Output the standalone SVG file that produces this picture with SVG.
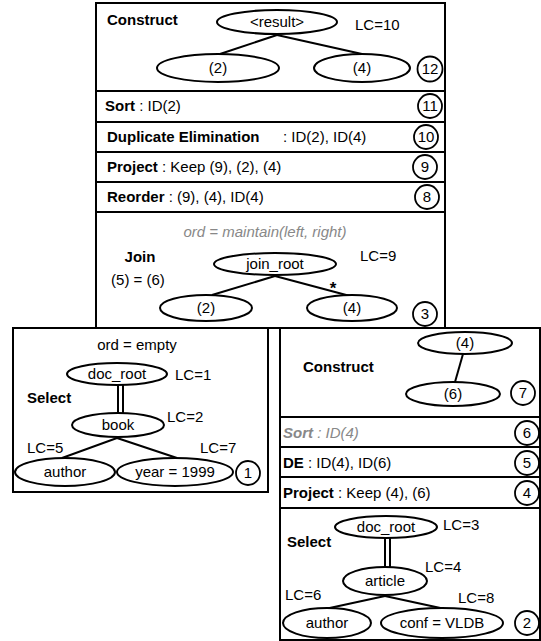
<svg xmlns="http://www.w3.org/2000/svg" width="541" height="641" viewBox="0 0 541 641">
<style>
text{font-family:"Liberation Sans",Arial,Helvetica,sans-serif;font-size:15px;fill:#000}
.b{font-weight:bold}
.c{text-anchor:middle}
.g{fill:#888;font-style:italic}
.box{fill:#fff;stroke:#000;stroke-width:2}
.sep{stroke:#000;stroke-width:2}
.el{fill:#fff;stroke:#000;stroke-width:2}
.num{fill:#fff;stroke:#000;stroke-width:1.8}
.ln{stroke:#000;stroke-width:2;fill:none}
</style>
<rect width="541" height="641" fill="#fff"/>
<!-- boxes -->
<g id="top-stack">
<rect class="box" x="96" y="3" width="349" height="325"/>
<line class="sep" x1="96" y1="91" x2="445" y2="91"/>
<line class="sep" x1="96" y1="122" x2="445" y2="122"/>
<line class="sep" x1="96" y1="152" x2="445" y2="152"/>
<line class="sep" x1="96" y1="182" x2="445" y2="182"/>
<line class="sep" x1="96" y1="212" x2="445" y2="212" stroke-width="3"/>
<line class="sep" x1="96" y1="328" x2="445" y2="328" stroke-width="3"/>
</g>
<g id="left-box">
<rect class="box" x="13" y="328" width="255" height="164"/>
</g>
<g id="right-stack">
<rect class="box" x="280" y="328" width="260" height="312"/>
<line class="sep" x1="280" y1="417" x2="540" y2="417"/>
<line class="sep" x1="280" y1="447" x2="540" y2="447"/>
<line class="sep" x1="280" y1="477" x2="540" y2="477"/>
<line class="sep" x1="280" y1="508" x2="540" y2="508"/>
</g>
<!-- connectors -->
<g id="connectors">
<line class="ln" x1="277" y1="35" x2="220" y2="54"/>
<line class="ln" x1="277" y1="35" x2="362" y2="54"/>
<line class="ln" x1="275" y1="276" x2="212" y2="295"/>
<line class="ln" x1="275" y1="276" x2="350" y2="296"/>
<line class="ln" x1="118" y1="385" x2="118" y2="413"/>
<line class="ln" x1="123" y1="385" x2="123" y2="413"/>
<line class="ln" x1="117" y1="438" x2="62" y2="458"/>
<line class="ln" x1="117" y1="438" x2="177" y2="458"/>
<line class="ln" x1="463" y1="354" x2="455" y2="382"/>
<line class="ln" x1="385" y1="538" x2="385" y2="567"/>
<line class="ln" x1="390" y1="538" x2="390" y2="567"/>
<line class="ln" x1="385" y1="596" x2="325" y2="609"/>
<line class="ln" x1="385" y1="596" x2="445" y2="609"/>
</g>
<!-- Construct (12) -->
<g id="construct12">
<text class="b" x="107" y="25">Construct</text>
<text x="355" y="30">LC=10</text>
</g>
<g id="result"><ellipse class="el" cx="277" cy="22" rx="60" ry="12"/><text class="c" x="277" y="27">&lt;result&gt;</text></g>
<g id="c12-2"><ellipse class="el" cx="218" cy="68" rx="61" ry="14"/><text class="c" x="218" y="73">(2)</text></g>
<g id="c12-4"><ellipse class="el" cx="362" cy="68" rx="48" ry="14"/><text class="c" x="362" y="73">(4)</text></g>
<g id="n12"><circle class="num" cx="430" cy="69" r="12.5"/><text class="c" x="430" y="74">12</text></g>
<!-- rows -->
<g id="sort11"><text x="105" y="111"><tspan class="b">Sort</tspan> : ID(2)</text>
<circle class="num" cx="430" cy="106" r="12"/><text class="c" x="430" y="111">11</text></g>
<g id="de10"><text x="107" y="142"><tspan class="b">Duplicate Elimination</tspan></text><text x="283" y="142">: ID(2), ID(4)</text>
<circle class="num" cx="426" cy="137" r="12"/><text class="c" x="426" y="142">10</text></g>
<g id="project9"><text x="107" y="172"><tspan class="b">Project</tspan> : Keep (9), (2), (4)</text>
<circle class="num" cx="425" cy="167" r="12"/><text class="c" x="425" y="172">9</text></g>
<g id="reorder8"><text x="107" y="202"><tspan class="b">Reorder</tspan> : (9), (4), ID(4)</text>
<circle class="num" cx="427" cy="197" r="12"/><text class="c" x="427" y="202">8</text></g>
<!-- Join (3) -->
<g id="join3">
<text class="c g" x="265" y="237">ord = maintain(left, right)</text>
<text class="c b" x="140" y="262">Join</text>
<text class="c" x="138" y="285">(5) = (6)</text>
<text x="360" y="261">LC=9</text>
<text class="c b" x="333" y="294" style="font-size:17px">*</text>
<circle class="num" cx="425" cy="314" r="12"/><text class="c" x="425" y="319">3</text>
</g>
<g id="join_root"><ellipse class="el" cx="275" cy="264" rx="61" ry="11"/><text class="c" x="275" y="269">join_root</text></g>
<g id="j-2"><ellipse class="el" cx="206" cy="308" rx="46" ry="13"/><text class="c" x="206" y="313">(2)</text></g>
<g id="j-4"><ellipse class="el" cx="352" cy="308" rx="45" ry="13"/><text class="c" x="352" y="313">(4)</text></g>
<!-- Select (1) -->
<g id="select1">
<text class="c" x="137" y="350">ord = empty</text>
<text class="b" x="27" y="403">Select</text>
<text x="175" y="380">LC=1</text>
<text x="167" y="422">LC=2</text>
<text x="27" y="453">LC=5</text>
<text x="200" y="453">LC=7</text>
<circle class="num" cx="248" cy="473" r="12"/><text class="c" x="248" y="478">1</text>
</g>
<g id="docroot1"><ellipse class="el" cx="117" cy="374" rx="50" ry="11"/><text class="c" x="117" y="379">doc_root</text></g>
<g id="book"><ellipse class="el" cx="118" cy="425" rx="46" ry="12"/><text class="c" x="118" y="430">book</text></g>
<g id="author1"><ellipse class="el" cx="65" cy="472" rx="50" ry="14"/><text class="c" x="65" y="477">author</text></g>
<g id="year"><ellipse class="el" cx="175" cy="472" rx="58" ry="14"/><text class="c" x="175" y="477">year = 1999</text></g>
<!-- Construct (7) -->
<g id="construct7">
<text class="b" x="303" y="372">Construct</text>
<circle class="num" cx="523" cy="393" r="12"/><text class="c" x="523" y="398">7</text>
</g>
<g id="c7-4"><ellipse class="el" cx="465" cy="343" rx="47" ry="11"/><text class="c" x="465" y="348">(4)</text></g>
<g id="c7-6"><ellipse class="el" cx="453" cy="394" rx="47" ry="12"/><text class="c" x="453" y="399">(6)</text></g>
<g id="sort6"><text class="g" x="283" y="438"><tspan class="b">Sort</tspan> : ID(4)</text>
<circle class="num" cx="527" cy="433" r="12"/><text class="c" x="527" y="438">6</text></g>
<g id="de5"><text x="283" y="468"><tspan class="b">DE</tspan> : ID(4), ID(6)</text>
<circle class="num" cx="527" cy="463" r="12"/><text class="c" x="527" y="468">5</text></g>
<g id="project4"><text x="283" y="498"><tspan class="b">Project</tspan> : Keep (4), (6)</text>
<circle class="num" cx="527" cy="493" r="12"/><text class="c" x="527" y="498">4</text></g>
<!-- Select (2) -->
<g id="select2">
<text class="b" x="287" y="547">Select</text>
<text x="443" y="530">LC=3</text>
<text x="425" y="572">LC=4</text>
<text x="285" y="600">LC=6</text>
<text x="458" y="603">LC=8</text>
<circle class="num" cx="527" cy="623" r="12"/><text class="c" x="527" y="628">2</text>
</g>
<g id="docroot2"><ellipse class="el" cx="386" cy="527" rx="51" ry="11"/><text class="c" x="386" y="532">doc_root</text></g>
<g id="article"><ellipse class="el" cx="385" cy="581" rx="42" ry="14"/><text class="c" x="385" y="586">article</text></g>
<g id="author2"><ellipse class="el" cx="327" cy="623" rx="44" ry="15"/><text class="c" x="327" y="628">author</text></g>
<g id="conf"><ellipse class="el" cx="442" cy="623" rx="61" ry="15"/><text class="c" x="442" y="628">conf = VLDB</text></g>
</svg>
